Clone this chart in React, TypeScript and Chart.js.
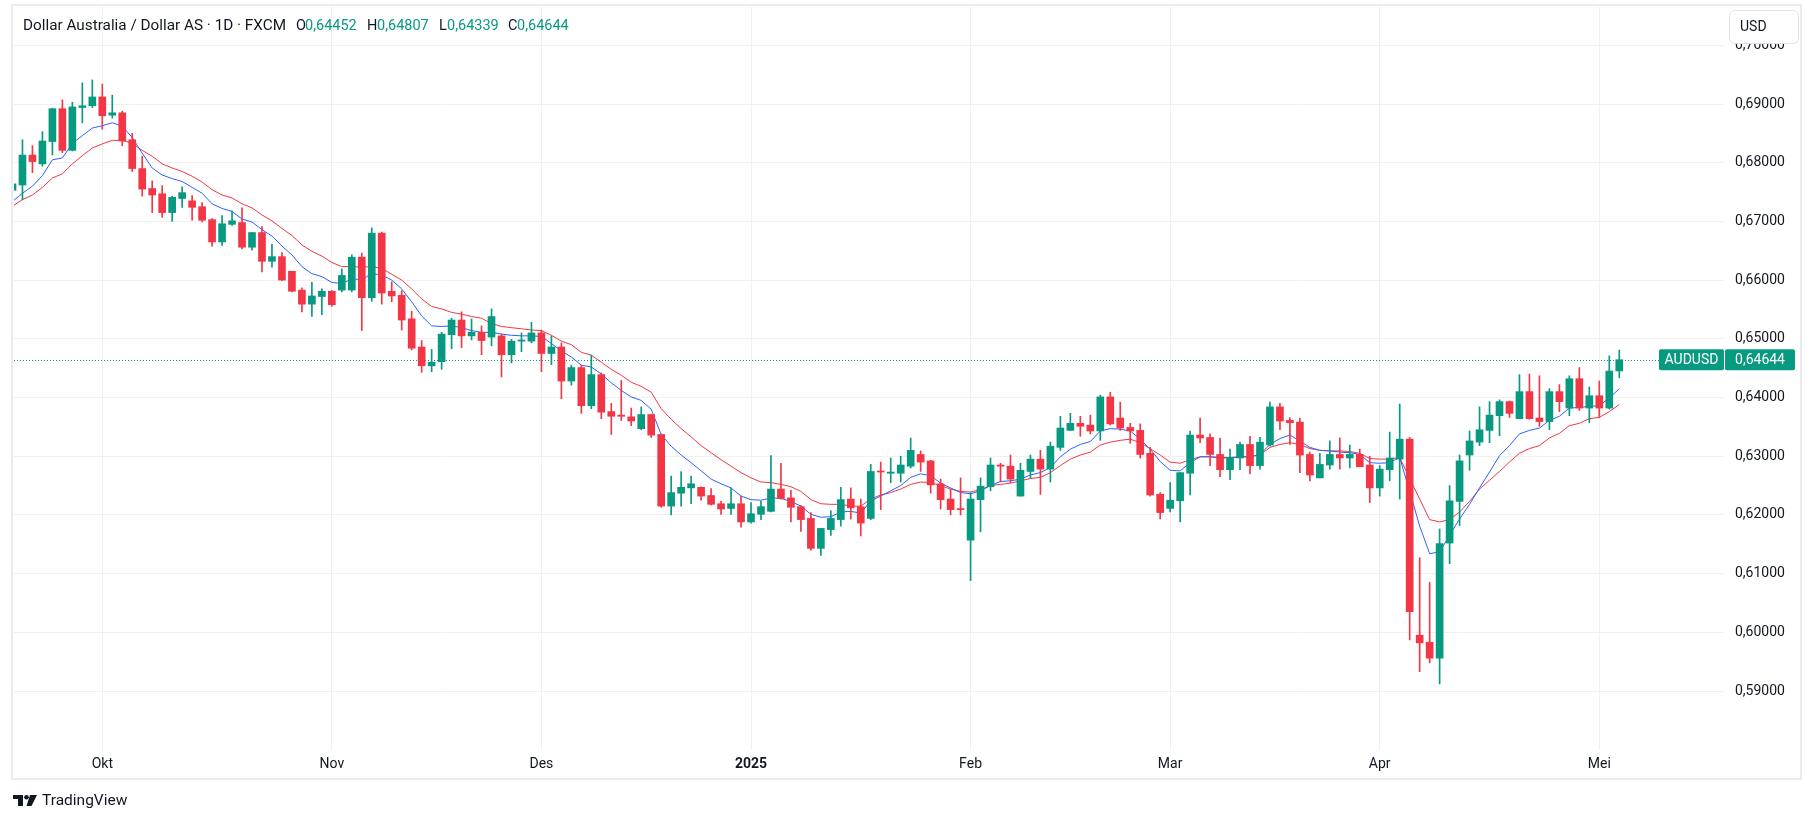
import React, { useEffect, useRef } from "react";
import { Chart, registerables } from "chart.js";

Chart.register(...registerables);

// ---- data (daily AUD/USD, 18 Sep 2024 .. 5 May 2025) ----
const opens = [
  0.6753, 0.6762, 0.6813, 0.6798, 0.6836, 0.6892, 0.6821, 0.6894, 0.6897, 0.6912,
  0.6881, 0.6885, 0.6839, 0.6790, 0.6756, 0.6747, 0.6715, 0.6739, 0.6735, 0.6725,
  0.6703, 0.6665, 0.6695, 0.6698, 0.6656, 0.6681, 0.6632, 0.6640, 0.6615, 0.6583,
  0.6559, 0.6572, 0.6581, 0.6583, 0.6583, 0.6639, 0.6570, 0.6680, 0.6581, 0.6574,
  0.6534, 0.6486, 0.6454, 0.6461, 0.6507, 0.6532, 0.6505, 0.6511, 0.6503, 0.6505,
  0.6473, 0.6496, 0.6496, 0.6510, 0.6475, 0.6486, 0.6428, 0.6451, 0.6386, 0.6439,
  0.6376, 0.6370, 0.6367, 0.6347, 0.6371, 0.6337, 0.6215, 0.6237, 0.6246, 0.6247,
  0.6233, 0.6219, 0.6211, 0.6219, 0.6188, 0.6201, 0.6206, 0.6244, 0.6229, 0.6214,
  0.6194, 0.6143, 0.6175, 0.6192, 0.6227, 0.6214, 0.6194, 0.6274, 0.6271, 0.6271,
  0.6283, 0.6303, 0.6292, 0.6253, 0.6227, 0.6210, 0.6157, 0.6226, 0.6248, 0.6285,
  0.6283, 0.6232, 0.6274, 0.6295, 0.6278, 0.6315, 0.6344, 0.6356, 0.6353, 0.6343,
  0.6401, 0.6365, 0.6349, 0.6344, 0.6305, 0.6235, 0.6211, 0.6224, 0.6271, 0.6336,
  0.6332, 0.6303, 0.6277, 0.6297, 0.6320, 0.6284, 0.6319, 0.6384, 0.6361, 0.6358,
  0.6303, 0.6263, 0.6285, 0.6303, 0.6297, 0.6303, 0.6285, 0.6246, 0.6277, 0.6295,
  0.6329, 0.5995, 0.5983, 0.5956, 0.6152, 0.6223, 0.6302, 0.6324, 0.6344, 0.6369,
  0.6393, 0.6364, 0.6410, 0.6365, 0.6359, 0.6410, 0.6382, 0.6432, 0.6382, 0.6403,
  0.6382, 0.64452,
];
const highs = [
  0.6770, 0.6839, 0.6829, 0.6853, 0.6893, 0.6907, 0.6903, 0.6936, 0.6941, 0.6934,
  0.6915, 0.6888, 0.6850, 0.6811, 0.6769, 0.6761, 0.6743, 0.6759, 0.6744, 0.6732,
  0.6705, 0.6710, 0.6718, 0.6723, 0.6681, 0.6691, 0.6661, 0.6647, 0.6615, 0.6587,
  0.6596, 0.6585, 0.6582, 0.6619, 0.6643, 0.6646, 0.6689, 0.6682, 0.6597, 0.6582,
  0.6547, 0.6497, 0.6482, 0.6511, 0.6535, 0.6546, 0.6534, 0.6522, 0.6551, 0.6508,
  0.6499, 0.6510, 0.6528, 0.6515, 0.6505, 0.6493, 0.6455, 0.6455, 0.6472, 0.6442,
  0.6390, 0.6429, 0.6382, 0.6384, 0.6371, 0.6338, 0.6266, 0.6274, 0.6266, 0.6248,
  0.6245, 0.6223, 0.6246, 0.6232, 0.6221, 0.6223, 0.6301, 0.6288, 0.6242, 0.6216,
  0.6204, 0.6177, 0.6207, 0.6247, 0.6246, 0.6227, 0.6286, 0.6290, 0.6297, 0.6300,
  0.6331, 0.6309, 0.6293, 0.6261, 0.6244, 0.6263, 0.6238, 0.6263, 0.6297, 0.6288,
  0.6302, 0.6288, 0.6302, 0.6310, 0.6324, 0.6368, 0.6373, 0.6368, 0.6370, 0.6404,
  0.6409, 0.6392, 0.6356, 0.6355, 0.6315, 0.6238, 0.6255, 0.6272, 0.6343, 0.6365,
  0.6338, 0.6331, 0.6312, 0.6324, 0.6334, 0.6332, 0.6392, 0.6390, 0.6366, 0.6365,
  0.6307, 0.6305, 0.6326, 0.6331, 0.6319, 0.6312, 0.6300, 0.6284, 0.6341, 0.6389,
  0.6332, 0.6127, 0.6085, 0.6176, 0.6250, 0.6302, 0.6343, 0.6384, 0.6393, 0.6396,
  0.6394, 0.6439, 0.6440, 0.6437, 0.6415, 0.6422, 0.6437, 0.6451, 0.6418, 0.6428,
  0.6471, 0.64807,
];
const lows = [
  0.6745, 0.6737, 0.6783, 0.6794, 0.6813, 0.6817, 0.6820, 0.6868, 0.6894, 0.6857,
  0.6876, 0.6829, 0.6785, 0.6743, 0.6715, 0.6707, 0.6700, 0.6724, 0.6702, 0.6699,
  0.6658, 0.6659, 0.6693, 0.6653, 0.6651, 0.6614, 0.6622, 0.6599, 0.6580, 0.6546,
  0.6538, 0.6541, 0.6555, 0.6580, 0.6580, 0.6514, 0.6564, 0.6559, 0.6563, 0.6515,
  0.6481, 0.6443, 0.6444, 0.6448, 0.6483, 0.6485, 0.6498, 0.6473, 0.6488, 0.6435,
  0.6459, 0.6478, 0.6493, 0.6444, 0.6456, 0.6398, 0.6421, 0.6373, 0.6381, 0.6364,
  0.6337, 0.6361, 0.6352, 0.6345, 0.6332, 0.6213, 0.6200, 0.6215, 0.6219, 0.6225,
  0.6217, 0.6201, 0.6201, 0.6179, 0.6186, 0.6192, 0.6205, 0.6227, 0.6188, 0.6172,
  0.6140, 0.6131, 0.6165, 0.6181, 0.6193, 0.6164, 0.6192, 0.6209, 0.6255, 0.6256,
  0.6280, 0.6274, 0.6237, 0.6210, 0.6200, 0.6200, 0.6088, 0.6171, 0.6241, 0.6256,
  0.6255, 0.6232, 0.6263, 0.6235, 0.6256, 0.6310, 0.6344, 0.6334, 0.6338, 0.6327,
  0.6353, 0.6344, 0.6322, 0.6297, 0.6232, 0.6193, 0.6205, 0.6188, 0.6234, 0.6323,
  0.6284, 0.6265, 0.6260, 0.6277, 0.6270, 0.6278, 0.6317, 0.6345, 0.6320, 0.6272,
  0.6258, 0.6263, 0.6278, 0.6278, 0.6280, 0.6282, 0.6221, 0.6232, 0.6258, 0.6227,
  0.5987, 0.5933, 0.5948, 0.5912, 0.6117, 0.6182, 0.6276, 0.6318, 0.6323, 0.6335,
  0.6366, 0.6364, 0.6363, 0.6351, 0.6345, 0.6376, 0.6369, 0.6378, 0.6357, 0.6366,
  0.6380, 0.64339,
];
const closes = [
  0.6764, 0.6813, 0.6802, 0.6837, 0.6892, 0.6821, 0.6895, 0.6897, 0.6912, 0.6880,
  0.6885, 0.6837, 0.6790, 0.6755, 0.6745, 0.6715, 0.6741, 0.6749, 0.6724, 0.6702,
  0.6665, 0.6696, 0.6701, 0.6656, 0.6681, 0.6632, 0.6640, 0.6600, 0.6581, 0.6559,
  0.6573, 0.6581, 0.6558, 0.6608, 0.6639, 0.6570, 0.6680, 0.6578, 0.6573, 0.6532,
  0.6484, 0.6454, 0.6460, 0.6508, 0.6532, 0.6505, 0.6511, 0.6497, 0.6538, 0.6473,
  0.6496, 0.6498, 0.6510, 0.6475, 0.6486, 0.6428, 0.6451, 0.6386, 0.6439, 0.6375,
  0.6368, 0.6368, 0.6360, 0.6371, 0.6336, 0.6215, 0.6238, 0.6247, 0.6253, 0.6232,
  0.6218, 0.6210, 0.6219, 0.6188, 0.6202, 0.6214, 0.6244, 0.6228, 0.6213, 0.6192,
  0.6143, 0.6177, 0.6194, 0.6226, 0.6212, 0.6186, 0.6274, 0.6273, 0.6273, 0.6285,
  0.6310, 0.6290, 0.6251, 0.6226, 0.6209, 0.6209, 0.6227, 0.6249, 0.6285, 0.6283,
  0.6261, 0.6276, 0.6295, 0.6278, 0.6317, 0.6348, 0.6356, 0.6351, 0.6343, 0.6401,
  0.6355, 0.6348, 0.6343, 0.6303, 0.6234, 0.6204, 0.6225, 0.6272, 0.6336, 0.6331,
  0.6303, 0.6277, 0.6298, 0.6320, 0.6284, 0.6324, 0.6384, 0.6360, 0.6357, 0.6302,
  0.6268, 0.6286, 0.6303, 0.6297, 0.6303, 0.6282, 0.6246, 0.6278, 0.6297, 0.6329,
  0.6035, 0.5982, 0.5956, 0.6151, 0.6224, 0.6292, 0.6326, 0.6345, 0.6370, 0.6393,
  0.6373, 0.6410, 0.6364, 0.6359, 0.6410, 0.6393, 0.6432, 0.6382, 0.6403, 0.6382,
  0.6445, 0.64644,
];
// moving-average lines as drawn on the chart
const maFast = [
  0.6734, 0.6748, 0.6760, 0.6778, 0.6805, 0.6808, 0.6833, 0.6846, 0.6859, 0.6863,
  0.6868, 0.6862, 0.6843, 0.6816, 0.6791, 0.6779, 0.6773, 0.6768, 0.6758, 0.6748,
  0.6730, 0.6722, 0.6717, 0.6704, 0.6699, 0.6686, 0.6675, 0.6658, 0.6643, 0.6623,
  0.6611, 0.6606, 0.6596, 0.6594, 0.6602, 0.6601, 0.6611, 0.6609, 0.6600, 0.6585,
  0.6563, 0.6539, 0.6522, 0.6521, 0.6522, 0.6519, 0.6514, 0.6511, 0.6511, 0.6508,
  0.6506, 0.6505, 0.6505, 0.6504, 0.6492, 0.6479, 0.6469, 0.6455, 0.6452, 0.6440,
  0.6425, 0.6412, 0.6401, 0.6395, 0.6380, 0.6337, 0.6317, 0.6302, 0.6289, 0.6275,
  0.6261, 0.6253, 0.6246, 0.6232, 0.6226, 0.6225, 0.6229, 0.6228, 0.6223, 0.6215,
  0.6201, 0.6196, 0.6197, 0.6205, 0.6206, 0.6203, 0.6224, 0.6232, 0.6241, 0.6250,
  0.6264, 0.6270, 0.6267, 0.6254, 0.6246, 0.6238, 0.6236, 0.6241, 0.6250, 0.6257,
  0.6258, 0.6261, 0.6268, 0.6272, 0.6281, 0.6299, 0.6312, 0.6320, 0.6325, 0.6343,
  0.6347, 0.6346, 0.6343, 0.6329, 0.6312, 0.6291, 0.6276, 0.6275, 0.6289, 0.6299,
  0.6299, 0.6297, 0.6297, 0.6299, 0.6299, 0.6303, 0.6320, 0.6330, 0.6336, 0.6326,
  0.6315, 0.6310, 0.6309, 0.6307, 0.6306, 0.6303, 0.6289, 0.6288, 0.6289, 0.6298,
  0.6240, 0.6181, 0.6134, 0.6137, 0.6165, 0.6193, 0.6218, 0.6246, 0.6273, 0.6301,
  0.6318, 0.6338, 0.6344, 0.6348, 0.6361, 0.6368, 0.6382, 0.6383, 0.6385, 0.6386,
  0.6399, 0.6415,
];
const maSlow = [
  0.6726, 0.6737, 0.6745, 0.6758, 0.6774, 0.6781, 0.6798, 0.6812, 0.6825, 0.6832,
  0.6838, 0.6838, 0.6833, 0.6821, 0.6811, 0.6798, 0.6791, 0.6785, 0.6777, 0.6767,
  0.6754, 0.6745, 0.6740, 0.6730, 0.6723, 0.6711, 0.6701, 0.6688, 0.6676, 0.6660,
  0.6649, 0.6641, 0.6630, 0.6623, 0.6623, 0.6622, 0.6623, 0.6620, 0.6610, 0.6600,
  0.6585, 0.6568, 0.6555, 0.6551, 0.6545, 0.6542, 0.6538, 0.6535, 0.6526, 0.6521,
  0.6519, 0.6517, 0.6515, 0.6514, 0.6506, 0.6496, 0.6490, 0.6477, 0.6472, 0.6460,
  0.6448, 0.6438, 0.6426, 0.6419, 0.6409, 0.6381, 0.6363, 0.6347, 0.6333, 0.6318,
  0.6306, 0.6294, 0.6283, 0.6272, 0.6263, 0.6256, 0.6255, 0.6252, 0.6248, 0.6240,
  0.6226, 0.6219, 0.6218, 0.6218, 0.6215, 0.6215, 0.6227, 0.6234, 0.6238, 0.6244,
  0.6252, 0.6256, 0.6255, 0.6250, 0.6244, 0.6240, 0.6239, 0.6243, 0.6250, 0.6252,
  0.6254, 0.6258, 0.6262, 0.6264, 0.6272, 0.6284, 0.6295, 0.6302, 0.6307, 0.6319,
  0.6324, 0.6327, 0.6329, 0.6323, 0.6313, 0.6302, 0.6290, 0.6288, 0.6294, 0.6299,
  0.6299, 0.6298, 0.6298, 0.6299, 0.6299, 0.6302, 0.6315, 0.6320, 0.6323, 0.6320,
  0.6313, 0.6310, 0.6309, 0.6309, 0.6308, 0.6305, 0.6296, 0.6295, 0.6295, 0.6298,
  0.6262, 0.6227, 0.6192, 0.6188, 0.6192, 0.6205, 0.6223, 0.6244, 0.6259, 0.6274,
  0.6290, 0.6305, 0.6313, 0.6318, 0.6331, 0.6339, 0.6352, 0.6356, 0.6364, 0.6366,
  0.6376, 0.6388,
];
// time axis: bar index of each month start and its label
const monthTickIdx = [9, 32, 53, 74, 96, 116, 137, 159];
const monthLabels = ["Okt", "Nov", "Des", "2025", "Feb", "Mar", "Apr", "Mei"];
const priceTicks = [0.59, 0.6, 0.61, 0.62, 0.63, 0.64, 0.65, 0.66, 0.67, 0.68, 0.69, 0.7];

const symbolTitle = "Dollar Australia / Dollar AS · 1D · FXCM";
const symbolCode = "AUDUSD";
const currency = "USD";

// ---- style ----
const W = 1813;
const H = 823;
const UP = "#089981";
const DOWN = "#F23645";
const TEXT = "#131722";
const GRID = "#f0f0f0";
const FONT = "Roboto, 'Noto Sans', Arial, sans-serif";

const fmt = (v: number) => v.toFixed(5).replace(".", ",");

export default function App() {
  const ref = useRef<HTMLCanvasElement | null>(null);

  useEffect(() => {
    const canvas = ref.current;
    if (!canvas) return;
    const idx = closes.map((_, i) => i);
    const colors = idx.map((i) => (closes[i] >= opens[i] ? UP : DOWN));
    const last = closes.length - 1;

    const overlay = {
      id: "overlay",
      beforeDatasetsDraw(chart: any) {
        const { ctx, chartArea, scales } = chart;
        const py = Math.round(scales.y.getPixelForValue(closes[last])) + 0.5;
        ctx.save();
        ctx.strokeStyle = UP;
        ctx.lineWidth = 1;
        ctx.setLineDash([1, 2]);
        ctx.beginPath();
        ctx.moveTo(chartArea.left, py);
        ctx.lineTo(chartArea.right, py);
        ctx.stroke();
        ctx.restore();
      },
      afterDraw(chart: any) {
        const { ctx, scales } = chart;
        ctx.save();
        // outer frame
        ctx.strokeStyle = "#ebebeb";
        ctx.lineWidth = 2;
        ctx.strokeRect(12, 5, 1789, 774);

        // header
        ctx.textBaseline = "middle";
        ctx.textAlign = "left";
        const hy = 26;
        ctx.font = `15px ${FONT}`;
        ctx.fillStyle = TEXT;
        const tw = ctx.measureText(symbolTitle).width;
        ctx.save();
        ctx.translate(23, hy);
        ctx.scale(tw > 0 ? 263 / tw : 1, 1);
        ctx.fillText(symbolTitle, 0, 0);
        ctx.restore();
        ctx.font = `14.5px ${FONT}`;
        const parts: [string, number, string, number][] = [
          ["O", 296, fmt(opens[last]), 305],
          ["H", 367, fmt(highs[last]), 377],
          ["L", 439, fmt(lows[last]), 447],
          ["C", 508, fmt(closes[last]), 517],
        ];
        for (const [k, kx, v, vx] of parts) {
          ctx.fillStyle = TEXT;
          ctx.fillText(k, kx, hy);
          ctx.fillStyle = UP;
          ctx.fillText(v, vx, hy);
        }

        // last price labels
        ctx.font = `14px ${FONT}`;
        const py = scales.y.getPixelForValue(closes[last]);
        const bh = 21;
        ctx.fillStyle = UP;
        ctx.beginPath();
        ctx.roundRect(1659, py - bh / 2, 65, bh, 2);
        ctx.fill();
        ctx.beginPath();
        ctx.roundRect(1725, py - bh / 2, 70, bh, 2);
        ctx.fill();
        ctx.fillStyle = "#ffffff";
        ctx.textAlign = "center";
        ctx.fillText(symbolCode, 1691.5, py + 0.5);
        ctx.fillText(fmt(closes[last]), 1760, py + 0.5);

        // currency button
        ctx.fillStyle = "#ffffff";
        ctx.strokeStyle = "#e0e3eb";
        ctx.lineWidth = 1;
        ctx.beginPath();
        ctx.roundRect(1729.5, 10.5, 69, 33, 5);
        ctx.fill();
        ctx.stroke();
        ctx.fillStyle = TEXT;
        ctx.textAlign = "left";
        ctx.fillText(currency, 1740, 27);

        // TradingView logo
        const lx = 13;
        const ly = 795;
        ctx.fillStyle = TEXT;
        ctx.fillRect(lx, ly, 10, 4);
        ctx.fillRect(lx + 5, ly, 5, 11);
        ctx.beginPath();
        ctx.arc(lx + 13.5, ly + 2.2, 2.3, 0, Math.PI * 2);
        ctx.fill();
        ctx.beginPath();
        ctx.moveTo(lx + 17, ly);
        ctx.lineTo(lx + 24, ly);
        ctx.lineTo(lx + 18.5, ly + 11);
        ctx.lineTo(lx + 13.5, ly + 11);
        ctx.closePath();
        ctx.fill();
        ctx.font = `15.5px ${FONT}`;
        ctx.fillText("TradingView", 42, 801);
        ctx.restore();
      },
    };

    const chart = new Chart(canvas, {
      type: "bar",
      data: {
        datasets: [
          {
            type: "line",
            label: "MA fast",
            data: idx.map((i) => ({ x: i, y: maFast[i] })),
            borderColor: "#2962FF",
            borderWidth: 1,
            pointRadius: 0,
            tension: 0,
            order: 3,
          },
          {
            type: "line",
            label: "MA slow",
            data: idx.map((i) => ({ x: i, y: maSlow[i] })),
            borderColor: DOWN,
            borderWidth: 1,
            pointRadius: 0,
            tension: 0,
            order: 4,
          },
          {
            type: "bar",
            label: "wick",
            data: idx.map((i) => ({ x: i, y: [lows[i], highs[i]] })),
            backgroundColor: colors,
            barThickness: 1,
            grouped: false,
            order: 2,
          },
          {
            type: "bar",
            label: "body",
            data: idx.map((i) => ({ x: i, y: [opens[i], closes[i]] })),
            backgroundColor: colors,
            barThickness: 7,
            minBarLength: 1,
            grouped: false,
            order: 1,
          },
        ] as any,
      },
      options: {
        animation: false,
        responsive: false,
        devicePixelRatio: 1,
        layout: { padding: { left: 14, right: 13, top: 7, bottom: 44 } },
        plugins: { legend: { display: false }, tooltip: { enabled: false } },
        scales: {
          x: {
            type: "linear",
            min: 0.152,
            max: 171.495,
            offset: false,
            grid: { color: GRID, drawTicks: false, offset: false },
            border: { display: false },
            afterBuildTicks: (s: any) => {
              s.ticks = monthTickIdx.map((v) => ({ value: v }));
            },
            afterFit: (s: any) => {
              s.height = 29;
              s.paddingLeft = 0;
              s.paddingRight = 0;
            },
            ticks: {
              autoSkip: false,
              maxRotation: 0,
              padding: 6,
              color: TEXT,
              font: (c: any) => ({
                family: FONT,
                size: 14,
                weight: c.tick && c.tick.value === 74 ? "bold" : "normal",
              }),
              callback: (v: any) => monthLabels[monthTickIdx.indexOf(Number(v))] ?? "",
            },
          },
          y: {
            type: "linear",
            position: "right",
            min: 0.579949,
            max: 0.706525,
            grid: { color: GRID, drawTicks: false },
            border: { display: false },
            afterBuildTicks: (s: any) => {
              s.ticks = priceTicks.map((v) => ({ value: v }));
            },
            afterFit: (s: any) => {
              s.width = 76;
              s.paddingTop = 0;
              s.paddingBottom = 0;
            },
            ticks: {
              padding: 11,
              color: TEXT,
              font: { family: FONT, size: 14 },
              callback: (v: any) => fmt(Number(v)),
            },
          },
        },
      } as any,
      plugins: [overlay],
    });
    return () => chart.destroy();
  }, []);

  return (
    <div style={{ position: "fixed", left: 0, top: 0, width: W, height: H, background: "#ffffff" }}>
      <canvas ref={ref} width={W} height={H} style={{ display: "block", width: W, height: H }} />
    </div>
  );
}
